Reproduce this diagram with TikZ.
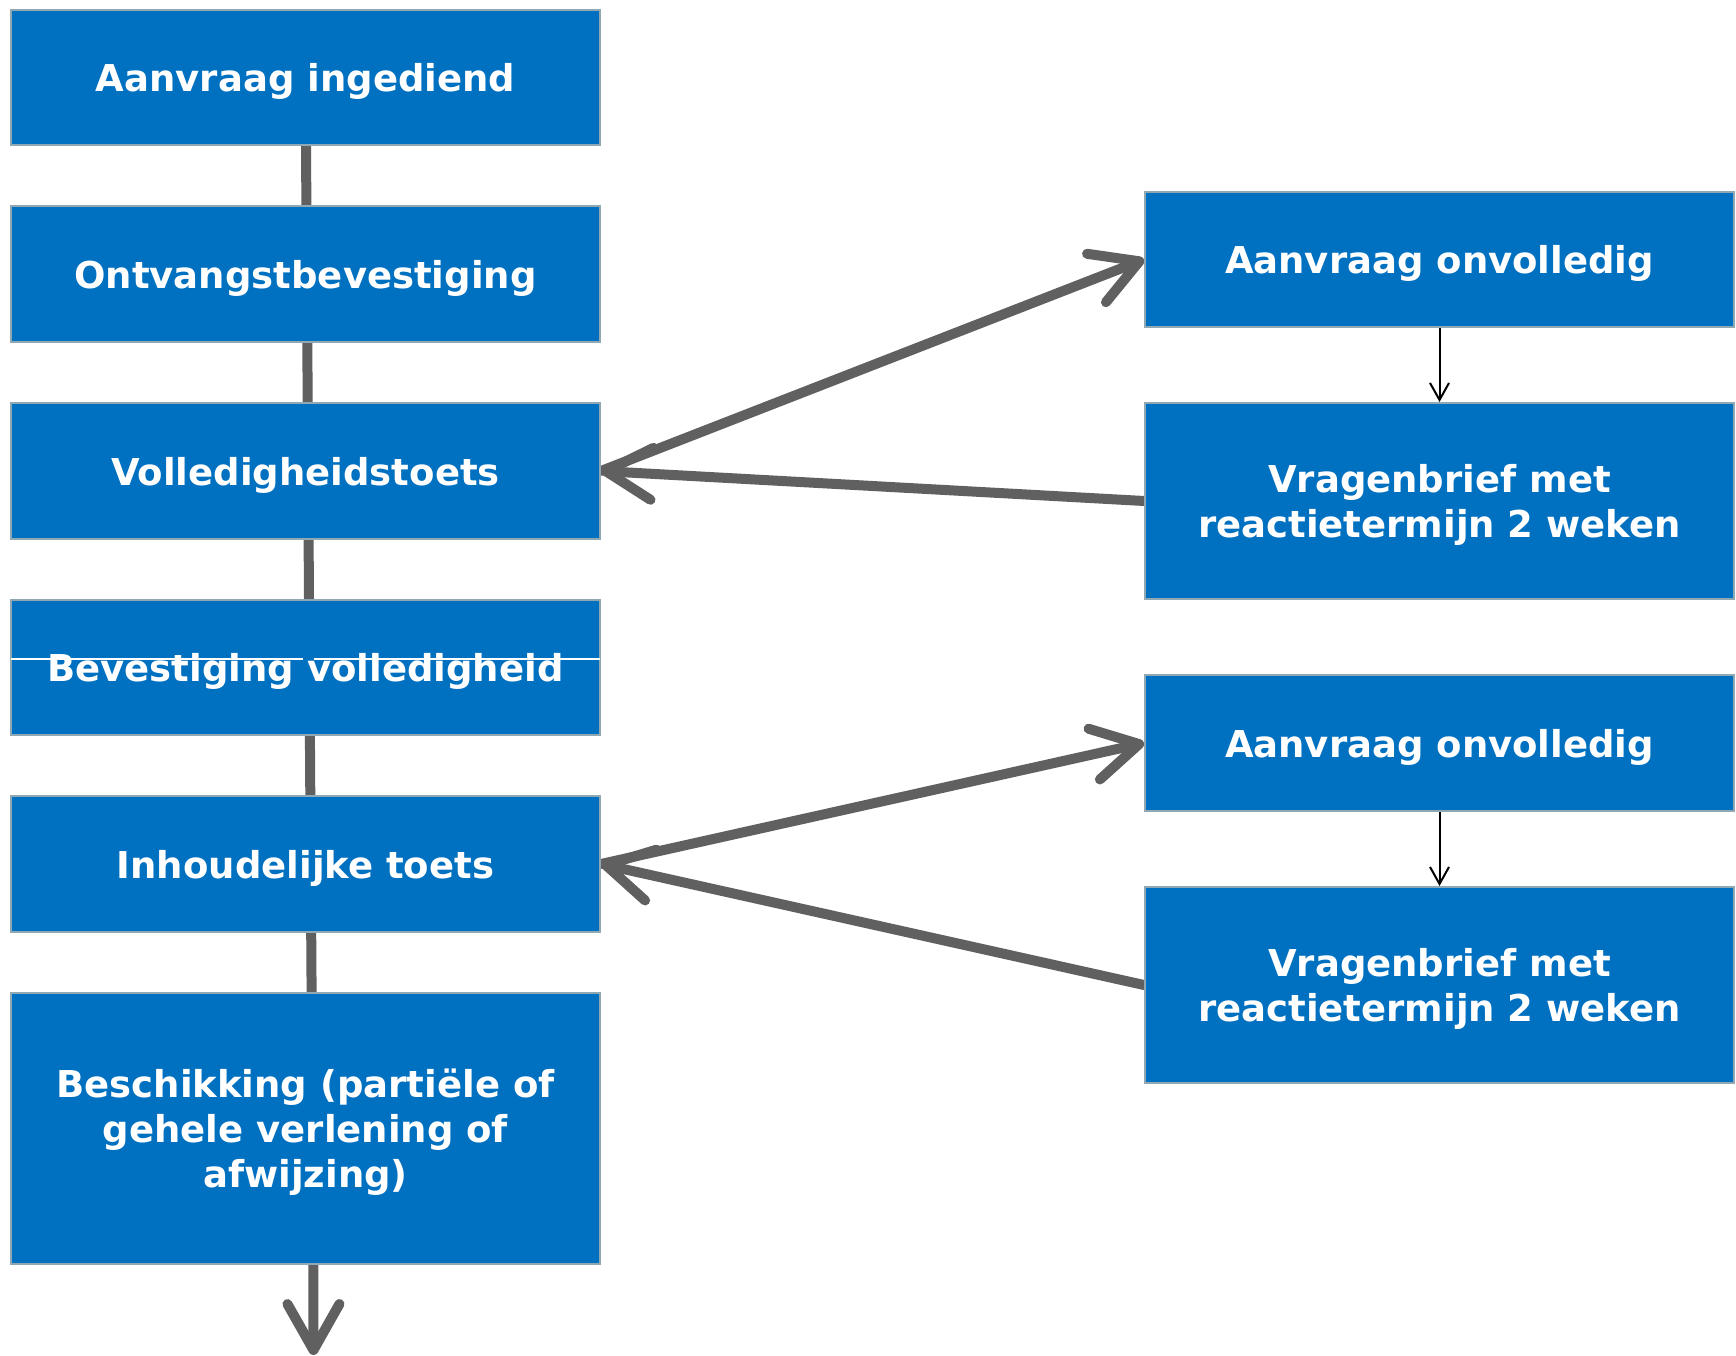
\documentclass[tikz,border=0pt]{standalone}
\usepackage{fontspec}
\setmainfont{DejaVu Sans}
\usetikzlibrary{arrows.meta}
\definecolor{boxblue}{HTML}{0070C0}
\definecolor{boxedge}{HTML}{8FA8B4}
\definecolor{flowgray}{HTML}{606060}
\pgfdeclarelayer{bg}
\pgfsetlayers{bg,main}
\begin{document}
\begin{tikzpicture}[x=1pt,y=-1pt,
  stepbox/.style={draw=boxedge, line width=2pt, fill=boxblue, text=white,
    font=\bfseries\fontsize{37}{45}\selectfont, align=center, text depth=0pt,
    minimum width=589pt, inner sep=0pt},
  flow/.style={draw=flowgray, line width=10pt},
  bigarrow/.style={flow, line cap=round, -{Straight Barb[length=46pt,width=52pt,round]}},
  thinarrow/.style={draw=black, line width=2pt, -{Straight Barb[length=17pt,width=19pt]}}]
\useasboundingbox (0,0) rectangle (1736,1356);
\node[stepbox, minimum height=135pt] (b1) at (305.5,77.5) {Aanvraag ingediend};
\node[stepbox, minimum height=136pt] (b2) at (305.5,274) {Ontvangstbevestiging};
\node[stepbox, minimum height=136pt] (b3) at (305.5,471) {Volledigheidstoets};
\node[stepbox, minimum height=135pt] (b4) at (305.5,667.5) {Bevestiging volledigheid};
\node[stepbox, minimum height=136pt] (b5) at (305.5,864) {Inhoudelijke toets};
\node[stepbox, minimum height=271pt] (b6) at (305.5,1128.5) {Beschikking (partiële of\\gehele verlening of\\afwijzing)};
\node[stepbox, minimum height=135pt] (r1) at (1439.5,259.5) {Aanvraag onvolledig};
\node[stepbox, minimum height=196pt] (r2) at (1439.5,501) {Vragenbrief met\\reactietermijn 2 weken};
\node[stepbox, minimum height=136pt] (r3) at (1439.5,743) {Aanvraag onvolledig};
\node[stepbox, minimum height=196pt] (r4) at (1439.5,985) {Vragenbrief met\\reactietermijn 2 weken};
\coordinate (endpt) at (313.5,1355);
\begin{pgfonlayer}{bg}
\draw[flow] ([xshift=0.5pt]b1.south) -- ([xshift=0.9pt]b2.north);
\draw[flow] ([xshift=1.8pt]b2.south) -- ([xshift=2.2pt]b3.north);
\draw[flow] ([xshift=3.1pt]b3.south) -- ([xshift=3.5pt]b4.north);
\draw[flow] ([xshift=4.4pt]b4.south) -- ([xshift=4.8pt]b5.north);
\draw[flow] ([xshift=5.7pt]b5.south) -- ([xshift=6.1pt]b6.north);
\draw[bigarrow] ([xshift=7.9pt]b6.south) -- (endpt);
\draw[bigarrow] (b3.east) -- (r1.west);
\draw[bigarrow] (r2.west) -- (b3.east);
\draw[bigarrow] (b5.east) -- (r3.west);
\draw[bigarrow] (r4.west) -- (b5.east);
\end{pgfonlayer}
\draw[thinarrow] (r1.south) -- (r2.north);
\draw[thinarrow] (r3.south) -- (r4.north);
\draw[white, line width=1.5pt] (11,659) -- (303,659) (314,659) -- (600,659);
\end{tikzpicture}
\end{document}
